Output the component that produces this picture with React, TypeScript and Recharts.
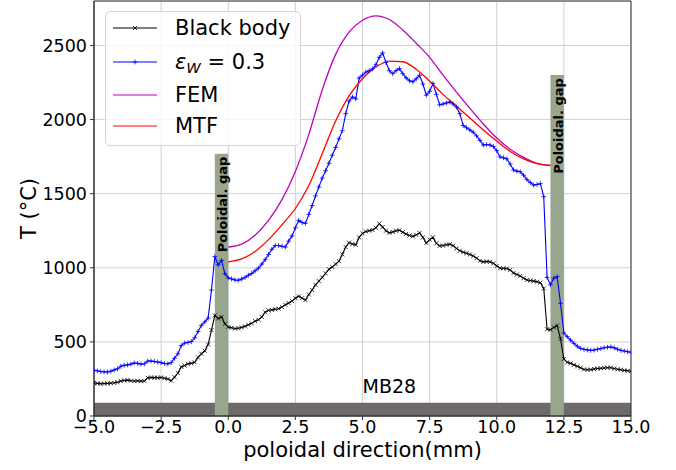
import {
  ComposedChart,
  Line,
  XAxis,
  YAxis,
  CartesianGrid,
  ReferenceArea,
  ReferenceDot,
} from "recharts";

// measured profiles, sampled every 0.125 mm from -5 mm
const POS_START = -5;
const POS_STEP = 0.125;

const blackBody = [
  223, 220, 218, 219, 220, 222, 224, 228,
  236, 240, 242, 238, 236, 237, 235, 236,
  258, 260, 259, 258, 260, 255, 250, 238,
  262, 290, 331, 340, 352, 355, 362, 395,
  420, 440, 482, 580, 679, 658, 668, 622,
  600, 595, 590, 592, 598, 605, 615, 625,
  640, 650, 668, 700, 713, 716, 720, 724,
  735, 750, 762, 775, 795, 808, 795, 782,
  820, 850, 885, 910, 935, 962, 990, 1005,
  1025, 1045, 1090, 1140, 1170, 1160, 1155, 1205,
  1232, 1245, 1250, 1255, 1270, 1298, 1275, 1250,
  1236, 1242, 1250, 1253, 1240, 1228, 1218, 1212,
  1222, 1235, 1205, 1167, 1190, 1205, 1165, 1148,
  1150, 1155, 1159, 1150, 1130, 1115, 1105, 1098,
  1090, 1080, 1065, 1048, 1040, 1042, 1040, 1030,
  1012, 998, 996, 995, 985, 965, 955, 945,
  930, 918, 914, 910, 906, 900, 860, 585,
  582, 598, 610, 520, 385, 362, 355, 345,
  335, 325, 314, 312, 313, 317, 320, 322,
  324, 326, 326, 320, 315, 312, 308, 305,
  302,
];

const emissivity03 = [
  308, 305, 300, 298, 297, 302, 310, 318,
  336, 342, 345, 350, 358, 355, 350, 352,
  370, 371, 368, 364, 360, 354, 352, 360,
  390, 420, 475, 492, 496, 502, 528, 570,
  612, 635, 660, 850, 1075, 1020, 1050, 960,
  932, 925, 918, 916, 924, 935, 950, 962,
  980, 998, 1025, 1055, 1090, 1125, 1150, 1150,
  1145, 1140, 1180, 1215, 1270, 1320, 1305, 1300,
  1360, 1420, 1485, 1545, 1605, 1655, 1705, 1760,
  1812, 1870, 1925, 2040, 2125, 2152, 2140, 2280,
  2300, 2320, 2330, 2342, 2370, 2420, 2450, 2385,
  2330, 2310, 2330, 2344, 2310, 2282, 2262, 2255,
  2275, 2299, 2240, 2165, 2190, 2243, 2170, 2100,
  2105, 2112, 2119, 2105, 2085, 2040, 1960, 1945,
  1930, 1915, 1890, 1860, 1828, 1832, 1828, 1818,
  1790, 1748, 1742, 1735, 1700, 1660, 1652, 1648,
  1625, 1595, 1575, 1558, 1562, 1568, 1480, 935,
  885, 930, 940, 760, 560, 535, 512, 490,
  470, 456, 450, 446, 443, 445, 450, 455,
  460, 464, 466, 460, 450, 443, 438, 434,
  430,
];

// simulations, every 0.5 mm from 0 to 12 mm
const MODEL_START = 0;
const MODEL_STEP = 0.5;

const femValues = [
  1140, 1160, 1220, 1320, 1460, 1650, 1900, 2200, 2440, 2590, 2670, 2700,
  2675, 2605, 2515, 2420, 2300, 2185, 2075, 1970, 1875, 1800, 1745, 1705,
  1690,
];

const mtfValues = [
  1040, 1060, 1110, 1190, 1290, 1400, 1555, 1770, 1990, 2160, 2275, 2355,
  2395, 2390, 2340, 2260, 2170, 2090, 2010, 1930, 1855, 1785, 1735, 1702,
  1690,
];

const xTicks = [-5, -2.5, 0, 2.5, 5, 7.5, 10, 12.5, 15];
const yTicks = [0, 500, 1000, 1500, 2000, 2500];

const gaps = [
  { from: -0.5, to: 0, top: 1770 },
  { from: 12, to: 12.5, top: 2300 },
];
const floorTop = 90;
const tileName = { text: "MB28", x: 6.0, y: 158 };

const toPoints = (start: number, step: number, vals: number[]) =>
  vals.map((v, i) => ({ x: start + i * step, y: v }));

const bbData = toPoints(POS_START, POS_STEP, blackBody);
const epsData = toPoints(POS_START, POS_STEP, emissivity03);
const femData = toPoints(MODEL_START, MODEL_STEP, femValues);
const mtfData = toPoints(MODEL_START, MODEL_STEP, mtfValues);

const FONT = "DejaVu Sans";

const fmtX = (v: number) => (v < 0 ? "\u2212" + Math.abs(v).toFixed(1) : v.toFixed(1));

const crossPath = (cx: number, cy: number, r: number) =>
  `M${cx - r},${cy - r}L${cx + r},${cy + r}M${cx - r},${cy + r}L${cx + r},${cy - r}`;
const plusPath = (cx: number, cy: number, r: number) =>
  `M${cx - r},${cy}L${cx + r},${cy}M${cx},${cy - r}L${cx},${cy + r}`;

const xDot = (p: any) => {
  if (p.cx == null || p.cy == null) return <g key={`bb${p.index}`} />;
  return (
    <path key={`bb${p.index}`} d={crossPath(p.cx, p.cy, 2)} stroke="#000" strokeWidth={0.8} fill="none" />
  );
};

const plusDot = (p: any) => {
  if (p.cx == null || p.cy == null) return <g key={`ep${p.index}`} />;
  return (
    <path key={`ep${p.index}`} d={plusPath(p.cx, p.cy, 2.4)} stroke="#0000ff" strokeWidth={0.8} fill="none" />
  );
};

const gapLabel = (props: any) => {
  const vb = props.viewBox;
  const ax = vb.x + vb.width - 1.3;
  const ay = vb.y + 3;
  return (
    <text
      x={ax}
      y={ay}
      transform={`rotate(-90 ${ax} ${ay})`}
      textAnchor="end"
      fontSize={13}
      fontWeight="bold"
      fontFamily={FONT}
      fill="#000"
    >
      Poloidal. gap
    </text>
  );
};

const tileLabel = (props: any) => {
  const vb = props.viewBox;
  return (
    <text x={vb.x} y={vb.y} textAnchor="middle" fontSize={19} fontFamily={FONT} fill="#000">
      {tileName.text}
    </text>
  );
};

const xTitle = (props: any) => {
  const vb = props.viewBox;
  return (
    <text x={vb.x + vb.width / 2} y={vb.y + 41} textAnchor="middle" fontSize={21} fontFamily={FONT} fill="#000">
      poloidal direction(mm)
    </text>
  );
};

const yTitle = (props: any) => {
  const vb = props.viewBox;
  const cx = 36;
  const cy = vb.y + vb.height / 2;
  return (
    <text
      x={cx}
      y={cy}
      transform={`rotate(-90 ${cx} ${cy})`}
      textAnchor="middle"
      fontSize={21}
      fontFamily={FONT}
      fill="#000"
    >
      T (°C)
    </text>
  );
};

const legendRows = [
  { key: "bb", color: "#000000", marker: "x" },
  { key: "eps", color: "#0000ff", marker: "+" },
  { key: "fem", color: "#bf00bf", marker: "" },
  { key: "mtf", color: "#ff0000", marker: "" },
];
const rowTops = [1, 35, 68, 99];

const legendText = (key: string) => {
  if (key === "bb") return "Black body";
  if (key === "fem") return "FEM";
  if (key === "mtf") return "MTF";
  return (
    <span>
      <i>ε</i>
      <i style={{ fontSize: "0.7em", position: "relative", top: "0.3em" }}>W</i>
      <span> = 0.3</span>
    </span>
  );
};

const LegendBox = () => (
  <div
    style={{
      position: "absolute",
      left: 105,
      top: 11,
      width: 196,
      height: 135,
      boxSizing: "border-box",
      border: "1px solid #d4d4d4",
      borderRadius: 5,
      background: "rgba(255,255,255,0.8)",
      fontFamily: FONT,
      fontSize: 21,
      color: "#000",
    }}
  >
    {legendRows.map((row, i) => (
      <div
        key={row.key}
        style={{ position: "absolute", left: 0, top: rowTops[i], height: 30, display: "flex", alignItems: "center", whiteSpace: "nowrap" }}
      >
        <svg width={60} height={30} style={{ display: "block" }}>
          <line x1={7} x2={51} y1={15} y2={15} stroke={row.color} strokeWidth={1.2} />
          {row.marker === "x" && <path d={crossPath(29, 15, 2)} stroke={row.color} strokeWidth={0.8} fill="none" />}
          {row.marker === "+" && <path d={plusPath(29, 15, 2.4)} stroke={row.color} strokeWidth={0.8} fill="none" />}
        </svg>
        <span style={{ marginLeft: 9 }}>{legendText(row.key)}</span>
      </div>
    ))}
  </div>
);

export default function App() {
  return (
    <div style={{ position: "fixed", left: 0, top: 0, width: 676, height: 470, background: "#fff" }}>
      <ComposedChart width={676} height={470} margin={{ top: 1, right: 45, bottom: 0, left: 0 }}>
        <CartesianGrid stroke="#d0d0d0" strokeWidth={1} />
        <XAxis
          type="number"
          dataKey="x"
          domain={[-5, 15]}
          ticks={xTicks}
          allowDataOverflow
          tickFormatter={fmtX}
          height={54}
          tickSize={4}
          tickMargin={1}
          stroke="#333"
          tick={{ fontSize: 17.5, fill: "#000", fontFamily: FONT }}
          label={xTitle}
        />
        <YAxis
          type="number"
          dataKey="y"
          domain={[0, 2800]}
          ticks={yTicks}
          allowDataOverflow
          width={94}
          tickSize={4}
          tickMargin={3}
          stroke="#333"
          tick={{ fontSize: 17.5, fill: "#000", fontFamily: FONT }}
          label={yTitle}
        />
        <ReferenceArea x1={-5} x2={15} y1={0} y2={floorTop} fill="#6f6a6a" fillOpacity={1} stroke="none" />
        {gaps.map((g, i) => (
          <ReferenceArea
            key={`gap${i}`}
            x1={g.from}
            x2={g.to}
            y1={0}
            y2={g.top}
            fill="#97a68c"
            fillOpacity={1}
            stroke="none"
            label={gapLabel}
          />
        ))}
        <Line
          data={bbData}
          dataKey="y"
          name="Black body"
          type="linear"
          stroke="#000"
          strokeWidth={1.1}
          dot={xDot}
          activeDot={false}
          isAnimationActive={false}
        />
        <Line
          data={epsData}
          dataKey="y"
          name="eps"
          type="linear"
          stroke="#0000ff"
          strokeWidth={1.1}
          dot={plusDot}
          activeDot={false}
          isAnimationActive={false}
        />
        <Line
          data={femData}
          dataKey="y"
          name="FEM"
          type="monotone"
          stroke="#bf00bf"
          strokeWidth={1.3}
          dot={false}
          activeDot={false}
          isAnimationActive={false}
        />
        <Line
          data={mtfData}
          dataKey="y"
          name="MTF"
          type="monotone"
          stroke="#ff0000"
          strokeWidth={1.3}
          dot={false}
          activeDot={false}
          isAnimationActive={false}
        />
        <ReferenceArea x1={-5} x2={15} y1={0} y2={2800} fill="none" stroke="#333" strokeWidth={1} />
        <ReferenceDot x={tileName.x} y={tileName.y} r={0} fill="none" stroke="none" label={tileLabel} />
      </ComposedChart>
      <LegendBox />
    </div>
  );
}
